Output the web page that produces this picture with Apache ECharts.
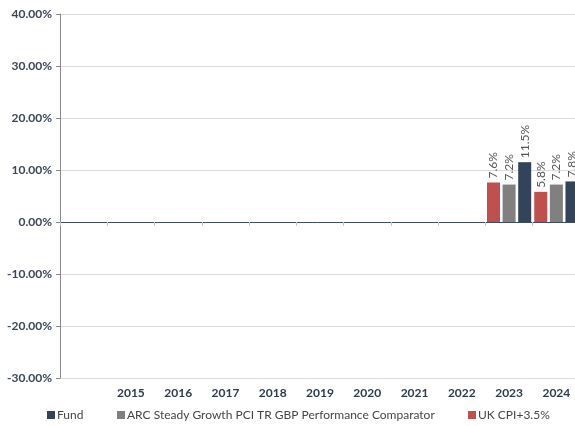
<!DOCTYPE html>
<html>
<head>
<meta charset="utf-8">
<script src="https://cdn.jsdelivr.net/npm/echarts@6/dist/echarts.min.js"></script>
<style>
  html, body { margin: 0; padding: 0; background: #fff; }
  #chart { width: 575px; height: 426px; }
</style>
</head>
<body>
<div id="chart"></div>
<script>
// first slot is left empty, as in the reference
const years = ['', '2015', '2016', '2017', '2018', '2019', '2020', '2021', '2022', '2023', '2024'];
const ukCpi = [null, null, null, null, null, null, null, null, null, 7.6, 5.8];
const arcComparator = [null, null, null, null, null, null, null, null, null, 7.2, 7.2];
const fund = [null, null, null, null, null, null, null, null, null, 11.5, 7.8];
const yTicks = { min: -30, max: 40, step: 10 };

const font = 'Lato';
const chart = echarts.init(document.getElementById('chart'));

function barSeries(name, values, color) {
  return {
    name: name,
    type: 'bar',
    xAxisIndex: 0,
    data: values,
    barWidth: 13,
    barGap: '20%',
    itemStyle: { color: color },
    label: {
      show: true,
      position: 'top',
      rotate: 90,
      align: 'left',
      verticalAlign: 'middle',
      distance: 4,
      color: '#555',
      fontFamily: font,
      fontSize: 12,
      formatter: p => p.value.toFixed(1) + '%'
    }
  };
}

function legendAt(name, left) {
  return {
    data: [name],
    left: left,
    top: 409,
    padding: 0,
    icon: 'rect',
    itemWidth: 8,
    itemHeight: 8,
    textStyle: { color: '#454545', fontFamily: font, fontSize: 12, padding: [0, 0, 0, -3] }
  };
}

chart.setOption({
  animation: false,
  // the plot runs a few pixels past the right edge, so the last bar is cut
  grid: { left: 60, top: 14, width: 520, bottom: 48, containLabel: false, outerBoundsMode: 'none' },
  legend: [
    legendAt('Fund', 47),
    legendAt('ARC Steady Growth PCI TR GBP Performance Comparator', 117),
    legendAt('UK CPI+3.5%', 468)
  ],
  xAxis: [
    {
      type: 'category',
      data: years,
      position: 'bottom',
      axisLine: { show: false, onZero: false },
      axisTick: { show: false },
      axisLabel: { color: '#2e3a4e', fontFamily: font, fontWeight: 'bold', fontSize: 12, margin: 9, interval: 0 }
    },
    {
      type: 'category',
      data: years,
      position: 'top',
      axisLine: { show: true, onZero: true, lineStyle: { color: '#3d4e63', width: 1 } },
      axisTick: { show: true, inside: true, length: 4, lineStyle: { color: '#c8c8c8' } },
      axisLabel: { show: false }
    }
  ],
  yAxis: {
    type: 'value',
    min: yTicks.min,
    max: yTicks.max,
    interval: yTicks.step,
    axisLine: { show: true, lineStyle: { color: '#888' } },
    axisTick: { show: true, length: 4, lineStyle: { color: '#888' } },
    splitLine: { lineStyle: { color: '#dcdcdc' } },
    axisLabel: {
      color: '#3a4658',
      fontFamily: font,
      fontWeight: 'bold',
      fontSize: 12,
      margin: 8,
      formatter: v => v.toFixed(2) + '%'
    }
  },
  series: [
    barSeries('UK CPI+3.5%', ukCpi, '#c0504d'),
    barSeries('ARC Steady Growth PCI TR GBP Performance Comparator', arcComparator, '#808080'),
    barSeries('Fund', fund, '#33445a')
  ]
});
</script>
</body>
</html>
